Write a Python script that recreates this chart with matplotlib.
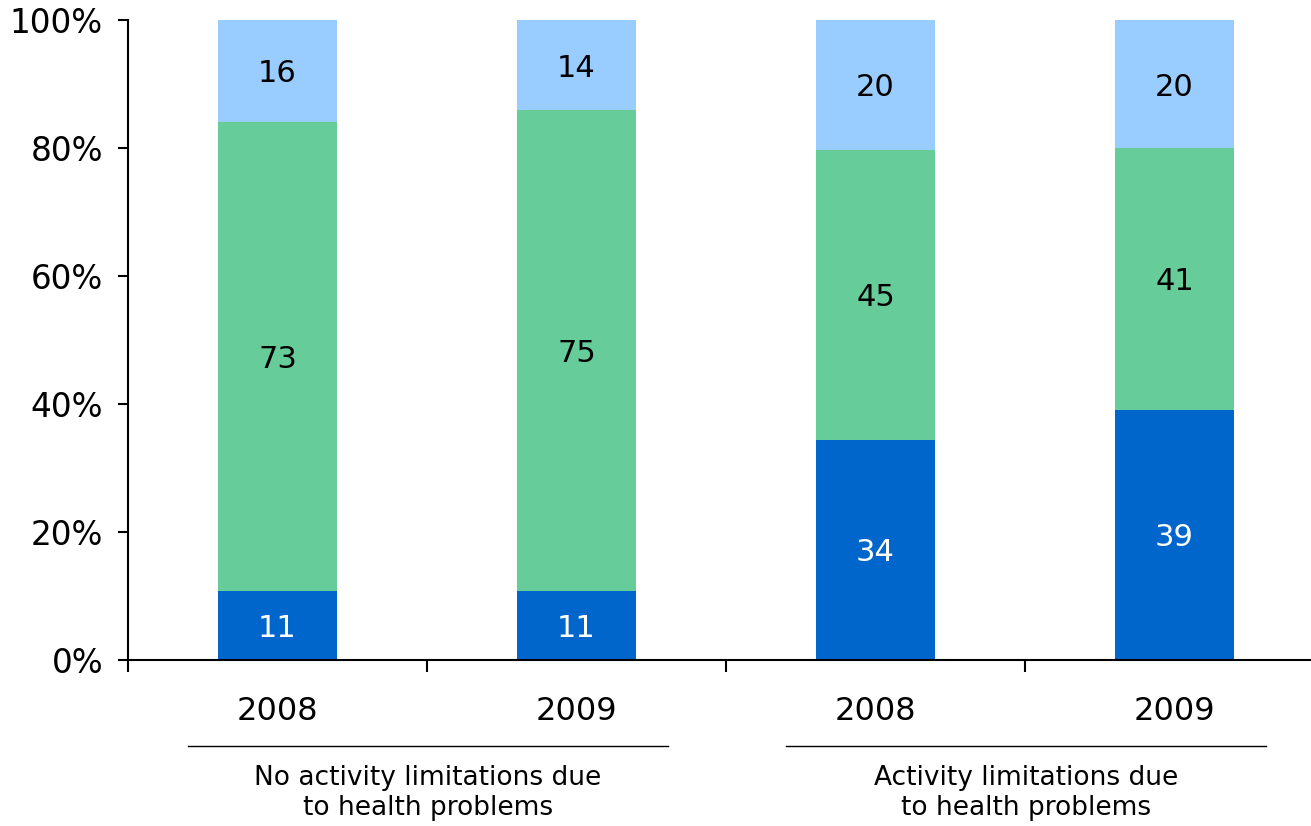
import numpy as np
import matplotlib.pyplot as plt

years = ["2008", "2009", "2008", "2009"]
groups = ["No activity limitations due\nto health problems", "Activity limitations due\nto health problems"]
bottom_vals = [10.8, 10.8, 34.4, 39.1]
middle_vals = [73.3, 75.1, 45.3, 40.9]
top_vals = [15.9, 14.1, 20.3, 20.0]

c_dark = "#0066CC"
c_green = "#66CC99"
c_light = "#99CCFF"

W, H = 1311, 826
fig = plt.figure(figsize=(W / 100, H / 100), dpi=100)
ax = fig.add_axes([128 / W, 1 - 660 / H, 1196 / W, 640 / H])

x = np.arange(len(years))
bw = 0.4
ax.bar(x, bottom_vals, bw, color=c_dark)
ax.bar(x, middle_vals, bw, bottom=bottom_vals, color=c_green)
base3 = np.array(bottom_vals) + np.array(middle_vals)
ax.bar(x, top_vals, bw, bottom=base3, color=c_light)

fs = 22
for i in range(len(x)):
    ax.text(x[i], bottom_vals[i] / 2, f"{bottom_vals[i]:.0f}", ha="center",
            va="center_baseline", color="white", fontsize=fs)
    ax.text(x[i], bottom_vals[i] + middle_vals[i] / 2, f"{middle_vals[i]:.0f}", ha="center",
            va="center_baseline", color="black", fontsize=fs)
    ax.text(x[i], base3[i] + top_vals[i] / 2, f"{top_vals[i]:.0f}", ha="center",
            va="center_baseline", color="black", fontsize=fs)

ax.set_xlim(-0.5, 3.5)
ax.set_ylim(0, 100)
ax.set_yticks(range(0, 101, 20))
ax.set_yticklabels([f"{v}%" for v in range(0, 101, 20)], fontsize=23.5)
ax.set_xticks([-0.5, 0.5, 1.5, 2.5])
ax.set_xticklabels([])
ax.tick_params(axis="x", direction="out", length=8.5, width=1.5)
ax.tick_params(axis="y", direction="out", length=7, width=1.5, pad=11)
for s in ["top", "right"]:
    ax.spines[s].set_visible(False)
for s in ["left", "bottom"]:
    ax.spines[s].set_linewidth(1.5)

# year labels
for i in range(len(x)):
    ax.text(x[i], -8, years[i], ha="center", va="center", fontsize=23, clip_on=False)

# group lines and labels
for g, (x0, x1) in enumerate([(188, 668), (786, 1266)]):
    fig.add_artist(plt.Line2D([x0 / W, x1 / W], [1 - 746 / H, 1 - 746 / H],
                              color="black", lw=1))
    fig.text((x0 + x1) / 2 / W, 1 - 793 / H, groups[g], ha="center", va="center",
             fontsize=19, linespacing=1.22)

fig.savefig("out.png", dpi=100)
